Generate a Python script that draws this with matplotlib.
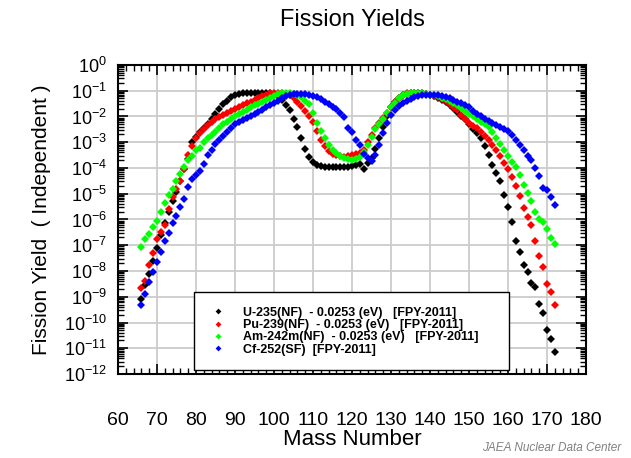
import numpy as np
import matplotlib
matplotlib.use('Agg')
import matplotlib.pyplot as plt
from matplotlib.ticker import LogLocator, MultipleLocator, NullFormatter

plt.rcParams['font.family'] = ['Liberation Sans', 'DejaVu Sans']
plt.rcParams['mathtext.fontset'] = 'custom'
plt.rcParams['mathtext.rm'] = 'Liberation Sans'

# mass numbers, one point per mass
mass = np.arange(66, 173)

# log10 of yield
u235_log = [-9.1, -8.55, -8.1, -7.6, -7.1, -6.6, -6.15, -5.7, -5.3, -4.95,
            -4.5, -4.05, -3.65, -3.0, -2.8, -2.6, -2.45, -2.28, -2.08, -1.9,
            -1.72, -1.52, -1.38, -1.25, -1.17, -1.12, -1.1, -1.1, -1.1, -1.1,
            -1.1, -1.1, -1.1, -1.1, -1.12, -1.2, -1.35, -1.55, -1.75, -2.08,
            -2.42, -2.85, -3.27, -3.56, -3.75, -3.88, -3.92, -3.95, -3.95, -3.96,
            -3.97, -3.97, -3.96, -3.95, -3.92, -3.9, -3.83, -4.02, -3.8, -3.6,
            -3.27, -2.85, -2.4, -2.0, -1.65, -1.42, -1.27, -1.17, -1.12, -1.1,
            -1.1, -1.1, -1.1, -1.12, -1.15, -1.2, -1.27, -1.35, -1.45, -1.55,
            -1.67, -1.82, -1.97, -2.1, -2.3, -2.47, -2.65, -2.85, -3.15, -3.5,
            -3.88, -4.2, -4.5, -5.05, -5.5, -6.1, -6.82, -7.25, -7.75, -8.05,
            -8.45, -8.62, -9.28, -9.64, -10.3, -10.65, -11.15]

pu239_log = [-8.67, -8.39, -7.78, -7.3, -6.75, -6.47, -6.22, -5.6, -5.12, -4.8,
             -4.5, -4.05, -3.5, -3.15, -2.85, -2.65, -2.5, -2.33, -2.2, -2.1,
             -2.02, -1.95, -1.88, -1.8, -1.7, -1.62, -1.55, -1.48, -1.42, -1.35,
             -1.28, -1.2, -1.15, -1.1, -1.1, -1.1, -1.1, -1.12, -1.18, -1.3,
             -1.45, -1.58, -1.78, -2.0, -2.2, -2.55, -2.9, -3.15, -3.35, -3.45,
             -3.5, -3.55, -3.56, -3.55, -3.5, -3.47, -3.43, -3.3, -3.0, -2.7,
             -2.45, -2.25, -2.05, -1.85, -1.62, -1.45, -1.28, -1.15, -1.1, -1.08,
             -1.1, -1.1, -1.12, -1.14, -1.17, -1.2, -1.25, -1.32, -1.4, -1.5,
             -1.62, -1.75, -1.95, -2.1, -2.25, -2.35, -2.45, -2.6, -2.75, -2.9,
             -3.1, -3.3, -3.55, -3.8, -4.02, -4.35, -4.7, -5.1, -5.55, -5.9,
             -6.2, -6.85, -7.4, -7.86, -8.5, -8.82, -9.32]

am242m_log = [-7.05, -6.75, -6.55, -6.3, -6.05, -5.7, -5.35, -5.05, -4.8, -4.5,
              -4.25, -3.98, -3.7, -3.55, -3.3, -3.22, -3.0, -2.85, -2.72, -2.6,
              -2.45, -2.3, -2.2, -2.1, -2.0, -1.92, -1.83, -1.74, -1.65, -1.57,
              -1.5, -1.42, -1.35, -1.27, -1.2, -1.14, -1.1, -1.1, -1.1, -1.12,
              -1.17, -1.25, -1.38, -1.52, -1.85, -2.25, -2.55, -2.85, -3.1, -3.3,
              -3.42, -3.52, -3.6, -3.66, -3.69, -3.66, -3.58, -3.38, -3.1, -2.8,
              -2.5, -2.3, -2.1, -1.85, -1.65, -1.48, -1.3, -1.18, -1.12, -1.1,
              -1.1, -1.1, -1.1, -1.12, -1.15, -1.18, -1.22, -1.27, -1.33, -1.4,
              -1.48, -1.57, -1.67, -1.8, -1.9, -2.0, -2.1, -2.2, -2.3, -2.42,
              -2.6, -2.82, -3.07, -3.32, -3.55, -3.75, -3.95, -4.28, -4.65, -4.98,
              -5.3, -5.7, -6.0, -6.08, -6.38, -6.7, -6.95]

cf252_log = [-9.32, -8.88, -8.42, -8.05, -7.66, -7.28, -6.85, -6.52, -6.15, -5.85,
             -5.5, -5.22, -4.72, -4.42, -4.28, -4.1, -3.85, -3.48, -3.3, -3.08,
             -2.9, -2.75, -2.6, -2.46, -2.3, -2.22, -2.13, -2.06, -1.98, -1.9,
             -1.82, -1.75, -1.65, -1.56, -1.46, -1.38, -1.28, -1.2, -1.15, -1.12,
             -1.12, -1.12, -1.13, -1.15, -1.2, -1.25, -1.33, -1.43, -1.53, -1.62,
             -1.72, -1.88, -2.02, -2.46, -2.62, -2.9, -3.1, -3.45, -3.6, -3.72,
             -3.5, -3.1, -2.65, -2.25, -1.95, -1.75, -1.6, -1.49, -1.4, -1.33,
             -1.25, -1.2, -1.18, -1.16, -1.15, -1.16, -1.18, -1.2, -1.24, -1.29,
             -1.35, -1.42, -1.48, -1.55, -1.65, -1.78, -1.9, -2.0, -2.1, -2.18,
             -2.25, -2.33, -2.4, -2.48, -2.55, -2.7, -2.9, -3.1, -3.32, -3.55,
             -3.7, -4.0, -4.3, -4.77, -4.86, -5.12, -5.45]

labels = ['U-235(NF)  - 0.0253 (eV)   [FPY-2011]',
          'Pu-239(NF)  - 0.0253 (eV)   [FPY-2011]',
          'Am-242m(NF)  - 0.0253 (eV)   [FPY-2011]',
          'Cf-252(SF)  [FPY-2011]']
colors = ['#000000', '#ff0000', '#00ff00', '#0000ff']

fig = plt.figure(figsize=(6.31, 4.58), dpi=100)
ax = fig.add_axes([0.187, 0.1834, 0.7417, 0.6747])

for logs, col, lab in zip([u235_log, pu239_log, am242m_log, cf252_log], colors, labels):
    ax.plot(mass, 10.0 ** np.array(logs), linestyle='none', marker='D',
            markersize=4.2, color=col, markeredgewidth=0, label=lab)

ax.set_yscale('log')
ax.set_xlim(60, 180)
ax.set_ylim(1e-12, 1)
ax.yaxis.set_major_locator(LogLocator(base=10, numticks=20))
ax.yaxis.set_minor_locator(LogLocator(base=10, subs=np.arange(2, 10), numticks=20))
ax.yaxis.set_minor_formatter(NullFormatter())
ax.xaxis.set_major_locator(MultipleLocator(10))
ax.xaxis.set_minor_locator(MultipleLocator(2))

ax.grid(True, which='major', color='#cccccc', linewidth=1.3)
ax.set_axisbelow(True)
ax.tick_params(which='both', direction='in', top=True, right=True)
ax.tick_params(which='major', length=7, width=1.2)
ax.tick_params(which='minor', length=4, width=1)
ax.tick_params(axis='x', which='major', pad=27, labelsize=14)
ax.tick_params(axis='y', which='major', pad=8, labelsize=13)
for s in ax.spines.values():
    s.set_linewidth(1.5)

ax.set_title('Fission Yields', fontsize=17, pad=28)
ax.set_xlabel('Mass Number', fontsize=16, labelpad=0)
ax.set_ylabel('Fission Yield  ( Independent )', fontsize=15, labelpad=9)

leg = ax.legend(loc='lower left', bbox_to_anchor=(0.162, 0.013, 0.673, 0.246),
                mode='expand', borderaxespad=0, fancybox=False, edgecolor='black',
                framealpha=1, prop={'size': 9, 'weight': 'bold'}, markerscale=0.7,
                handlelength=1.5, handletextpad=1.3, labelspacing=0.02, borderpad=1.15)
leg.get_frame().set_linewidth(1.0)

fig.text(0.985, 0.008, 'JAEA Nuclear Data Center', ha='right', va='bottom',
         fontsize=8.5, style='italic', color='#808080')

plt.savefig('out.png', dpi=100)
